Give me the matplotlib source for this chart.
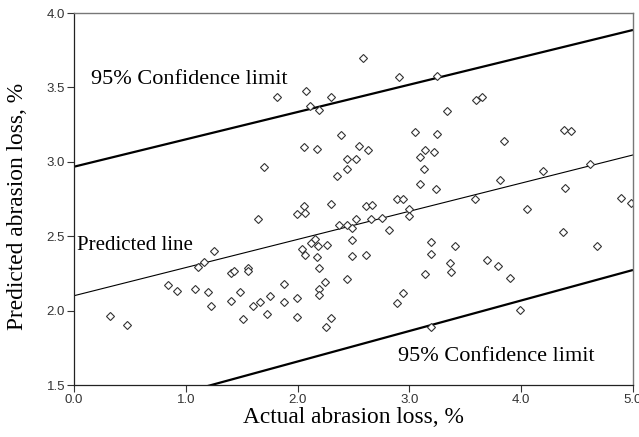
import matplotlib
matplotlib.use("Agg")
import matplotlib.pyplot as plt
import numpy as np

# Scatter data (actual, predicted abrasion loss %)
actual = [1.818, 2.078, 2.114, 2.194, 2.296, 2.386, 2.055, 2.176, 1.697, 2.445,
          2.445, 2.355, 2.588, 2.904, 3.247, 3.339, 3.598, 3.649, 2.547, 2.627,
          2.522, 3.047, 3.250, 3.140, 3.220, 3.092, 3.131, 3.092, 3.241, 3.843,
          4.383, 4.443, 4.615, 4.195, 3.813, 4.394, 4.890, 2.889, 2.945, 3.589,
          0.325, 0.474, 0.838, 0.921, 1.082, 1.199, 1.112, 1.160, 1.252, 1.225,
          1.404, 1.487, 1.402, 1.434, 1.559, 1.559, 1.509, 1.604, 1.664, 1.753,
          1.729, 1.646, 1.878, 1.878, 1.997, 1.997, 1.997, 2.060, 2.069, 2.296,
          2.373, 2.445, 2.042, 2.069, 2.117, 2.156, 2.185, 2.260, 2.176, 2.194,
          2.248, 2.194, 2.194, 2.439, 2.296, 2.254, 2.522, 2.489, 2.489, 2.489,
          2.612, 2.612, 2.668, 2.654, 2.758, 2.815, 2.994, 2.994, 3.190, 3.190,
          3.405, 3.360, 3.372, 3.137, 2.945, 2.889, 3.193, 4.052, 3.694, 3.792,
          3.897, 3.992, 4.374, 4.678, 4.979]
predicted = [3.435, 3.476, 3.377, 3.348, 3.435, 3.178, 3.099, 3.084, 2.963, 3.017,
             2.950, 2.903, 3.700, 3.570, 3.577, 3.343, 3.415, 3.437, 3.106, 3.077,
             3.017, 3.198, 3.189, 3.077, 3.064, 3.030, 2.950, 2.849, 2.819, 3.142,
             3.214, 3.205, 2.987, 2.938, 2.876, 2.826, 2.759, 2.750, 2.753, 2.750,
             1.966, 1.905, 2.172, 2.134, 2.145, 2.125, 2.293, 2.329, 2.403, 2.031,
             2.067, 2.123, 2.253, 2.266, 2.284, 2.266, 1.942, 2.031, 2.056, 2.098,
             1.975, 2.618, 2.179, 2.058, 2.085, 1.957, 2.647, 2.705, 2.658, 2.714,
             2.577, 2.577, 2.416, 2.376, 2.452, 2.481, 2.434, 2.441, 2.360, 2.286,
             2.194, 2.147, 2.103, 2.210, 1.950, 1.890, 2.618, 2.553, 2.477, 2.365,
             2.376, 2.703, 2.712, 2.614, 2.624, 2.544, 2.685, 2.634, 2.459, 2.378,
             2.436, 2.318, 2.261, 2.246, 2.118, 2.051, 1.892, 2.685, 2.342, 2.300,
             2.219, 2.004, 2.530, 2.436, 2.725]

# Lines: endpoints at x = 0 and x = 5
line_x = [0.0, 5.0]
pred_line = [2.100, 3.046]
upper_limit = [2.967, 3.886]
lower_limit = [1.248, 2.273]

x_ticks = [0.0, 1.0, 2.0, 3.0, 4.0, 5.0]
y_ticks = [1.5, 2.0, 2.5, 3.0, 3.5, 4.0]

fig = plt.figure(figsize=(6.39, 4.37), dpi=100)
ax = fig.add_axes([74/639, 1-385/437, (633-74)/639, (385-13)/437])

serif = ["Liberation Serif", "DejaVu Serif"]
sans = ["Liberation Sans Narrow", "Liberation Sans", "DejaVu Sans"]

ax.plot(line_x, upper_limit, color="black", lw=1.6, solid_capstyle="butt")
ax.plot(line_x, lower_limit, color="black", lw=1.6, solid_capstyle="butt")
ax.plot(line_x, pred_line, color="black", lw=0.8)
ax.plot(actual, predicted, linestyle="none", marker="D", markersize=4.0,
        markerfacecolor="white", markeredgecolor="#333333", markeredgewidth=0.8)

ax.set_xlim(0, 5)
ax.set_ylim(1.5, 4.0)
ax.set_xticks(x_ticks)
ax.set_yticks(y_ticks)
ax.set_xticklabels([f"{v:.1f}" for v in x_ticks], family=sans, fontsize=9.5, color="#333333")
ax.set_yticklabels([f"{v:.1f}" for v in y_ticks], family=sans, fontsize=9.5, color="#333333")
ax.tick_params(direction="out", length=5, width=0.8, color="#333333", pad=1.5)

for s in ["left", "bottom"]:
    ax.spines[s].set_color("#222222")
    ax.spines[s].set_linewidth(0.9)
for s in ["top", "right"]:
    ax.spines[s].set_color("#777777")
    ax.spines[s].set_linewidth(1.0)

ax.set_xlabel("Actual abrasion loss, %", family=serif, fontsize=16.8, labelpad=1)
ax.set_ylabel("Predicted abrasion loss, %", family=serif, fontsize=16.8)
ax.yaxis.set_label_coords(-0.083, 0.481)

ax.text(0.15, 3.55, "95% Confidence limit", family=serif, fontsize=16, va="center", ha="left")
ax.text(2.9, 1.69, "95% Confidence limit", family=serif, fontsize=16, va="center", ha="left")
ax.text(0.03, 2.44, "Predicted line", family=serif, fontsize=15, va="center", ha="left")

fig.savefig("out.png", dpi=100)
